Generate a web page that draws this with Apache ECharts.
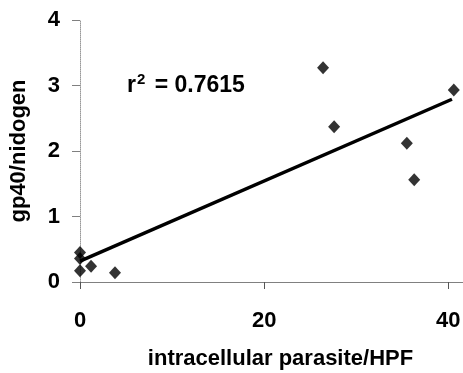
<!DOCTYPE html>
<html>
<head>
<meta charset="utf-8">
<script src="https://cdn.jsdelivr.net/npm/echarts@6/dist/echarts.min.js"></script>
<style>
  html, body { margin: 0; padding: 0; background: #fff; }
  #chart { width: 463px; height: 373px; }
</style>
</head>
<body>
<div id="chart"></div>
<script>
// parasite counts per HPF vs gp40/nidogen ratio
const parasites = [0, 0, 0, 1.2, 3.8, 26.4, 27.6, 35.5, 36.3, 40.6];
const gp40 = [0.45, 0.36, 0.17, 0.24, 0.14, 3.27, 2.37, 2.12, 1.56, 2.93];
const fitX = [0, 40.4];
const fitY = [0.32, 2.79];
const xTicks = [0, 20, 40];
const yTicks = [0, 1, 2, 3, 4];
const rSquared = '0.7615';

const font = 'Liberation Sans, Arial, sans-serif';

const chart = echarts.init(document.getElementById('chart'), undefined, { renderer: 'canvas' });

chart.setOption({
  backgroundColor: '#fff',
  animation: false,
  grid: { left: 80, right: 0, top: 20, bottom: 91, containLabel: false, outerBoundsMode: 'none' },
  xAxis: {
    type: 'value',
    min: 0,
    max: 41.6,
    interval: 20,
    name: 'intracellular parasite/HPF',
    nameLocation: 'middle',
    nameGap: 66,
    nameTextStyle: { color: '#000', fontFamily: font, fontWeight: 'bold', fontSize: 22, padding: [0, 0, 0, 18] },
    axisLine: { show: true, onZero: false, lineStyle: { color: '#808080', width: 1 } },
    axisTick: { show: true, inside: false, length: 7, lineStyle: { color: '#555' } },
    axisLabel: {
      color: '#000', fontFamily: font, fontWeight: 'bold', fontSize: 22, margin: 28,
      formatter: v => (xTicks.includes(v) ? String(v) : '')
    },
    splitLine: { show: false }
  },
  yAxis: {
    type: 'value',
    min: 0,
    max: 4,
    interval: 1,
    name: 'gp40/nidogen',
    nameLocation: 'middle',
    nameGap: 50,
    nameTextStyle: { color: '#000', fontFamily: font, fontWeight: 'bold', fontSize: 22 },
    axisLine: { show: true, onZero: false, lineStyle: { color: '#999', width: 1, type: 'dotted' } },
    axisTick: { show: true, inside: false, length: 8, lineStyle: { color: '#808080' } },
    axisLabel: {
      color: '#000', fontFamily: font, fontWeight: 'bold', fontSize: 22, margin: 20,
      formatter: v => (yTicks.includes(v) ? String(v) : '')
    },
    splitLine: { show: false }
  },
  graphic: [{
    type: 'text',
    left: 127,
    top: 72,
    style: {
      text: '{r|r}{s|2}{r| = ' + rSquared + '}',
      rich: {
        r: { fontFamily: font, fontWeight: 'bold', fontSize: 23, fill: '#000', verticalAlign: 'bottom' },
        s: { fontFamily: font, fontWeight: 'bold', fontSize: 15, fill: '#000', verticalAlign: 'top', padding: [0, 3, 10, 1] }
      }
    }
  }],
  series: [
    {
      type: 'line',
      data: fitX.map((x, i) => [x, fitY[i]]),
      symbol: 'none',
      lineStyle: { color: '#000', width: 3.5 },
      z: 2
    },
    {
      type: 'scatter',
      data: parasites.map((x, i) => [x, gp40[i]]),
      symbol: 'diamond',
      symbolSize: [12, 13],
      itemStyle: { color: '#000' },
      z: 3
    }
  ]
});
</script>
</body>
</html>
